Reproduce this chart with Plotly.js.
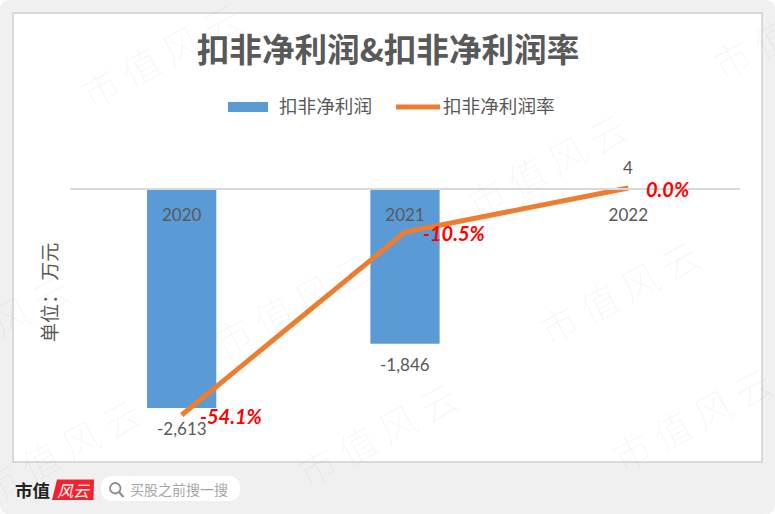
<!DOCTYPE html>
<html><head><meta charset="utf-8">
<script src="https://cdn.plot.ly/plotly-3.0.1.min.js"></script>
<style>html,body{margin:0;padding:0;background:#fff;overflow:hidden}#c{width:775px;height:514px}</style>
</head><body><div id="c"></div>
<script>
var categories = ['2020','2021','2022'];
var profit = [-2613,-1846,4];
var profitLabels = ['-2,613','-1,846','4'];
var margin = [-54.1,-10.5,0.0];
var marginLabels = ['-54.1%','-10.5%','0.0%'];
var barName = '扣非净利润';
var lineName = '扣非净利润率';
var chartTitle = '扣非净利润&扣非净利润率';
var unitLabel = '单位： 万元';
var watermarkChars = ['市','值','风','云'];
var watermarkSpots = [[160,55],[791,26],[546,165],[292,303],[618,291],[-11,325],[376,433],[691,418],[59,449]];

var W=775,H=514;
function px(x){return x/W;} function py(y){return 1-y/H;}
var F='Lato, "Noto Sans CJK SC", sans-serif', CJK='"Noto Sans CJK SC", sans-serif';
var top_=140,bot=440,zero=189;
var s1=219/2613, s2=227/54.1;
var yRange=[(zero-bot)/s1,(zero-top_)/s1];
var y2Range=[(188-bot)/s2,(188-top_)/s2];

var traces=[
 {type:'bar',name:barName,x:categories,y:profit,marker:{color:'#5B9BD5'},width:0.31,hoverinfo:'x+y'},
 {type:'scatter',mode:'lines',name:lineName,x:categories,y:margin,yaxis:'y2',cliponaxis:false,
  line:{color:'#ED7D31',width:5},hoverinfo:'x+y'}
];
function rr(x0,y0,x1,y1,r){
 function P(x,y){return px(x)+','+py(y);}
 return 'M'+P(x0+r,y0)+'L'+P(x1-r,y0)+'Q'+P(x1,y0)+' '+P(x1,y0+r)+'L'+P(x1,y1-r)+'Q'+P(x1,y1)+' '+P(x1-r,y1)+
 'L'+P(x0+r,y1)+'Q'+P(x0,y1)+' '+P(x0,y1-r)+'L'+P(x0,y0+r)+'Q'+P(x0,y0)+' '+P(x0+r,y0)+'Z';
}
function box(x0,y0,x1,y1,o){return Object.assign({type:'rect',xref:'paper',yref:'paper',x0:px(x0),x1:px(x1),y0:py(y0),y1:py(y1),layer:'below'},o);}
var shapes=[
 {type:'path',xref:'paper',yref:'paper',path:rr(0,0,775,514,10),fillcolor:'#f0f0f0',line:{width:0},layer:'below'},
 box(13,13,762,462,{fillcolor:'#fff',line:{color:'#d9d9d9',width:2}}),
 box(228,102,268,112,{fillcolor:'#5B9BD5',line:{width:0}}),
 {type:'line',xref:'paper',yref:'paper',x0:px(396),x1:px(440),y0:py(107),y1:py(107),line:{color:'#ED7D31',width:5},layer:'below'},
 {type:'path',xref:'paper',yref:'paper',path:rr(101,476,240,501,12),fillcolor:'#fff',line:{width:0},layer:'below'},
 {type:'circle',xref:'paper',yref:'paper',x0:px(110),x1:px(120.5),y0:py(483),y1:py(493.5),line:{color:'#8c8c8c',width:1.8},fillcolor:'rgba(0,0,0,0)'},
 {type:'line',xref:'paper',yref:'paper',x0:px(119),x1:px(123.5),y0:py(492),y1:py(497),line:{color:'#8c8c8c',width:2}},
 {type:'path',xref:'paper',yref:'paper',path:'M'+px(57)+','+py(479.5)+'L'+px(94)+','+py(479.5)+'L'+px(93.5)+','+py(500)+'L'+px(52)+','+py(500)+'Z',fillcolor:'#f5222d',line:{width:0}}
];
function note(x,y,t,size,color,o){return Object.assign({xref:'paper',yref:'paper',x:px(x),y:py(y),text:t,showarrow:false,
  font:{family:CJK,size:size,color:color},xanchor:'center',yanchor:'middle'},o||{});}
var ann=[
 note(325,105,barName,18.6,'#595959'),
 note(499,105,lineName,18.6,'#595959'),
 note(48,293,unitLabel,19,'#595959',{textangle:-90}),
 note(32.5,489,'<b>市值</b>',17.5,'#222222'),
 note(73.5,490,'<i>风云</i>',16,'#ffffff'),
 note(179,489,'买股之前搜一搜',14,'#a6a6a6')
];
categories.forEach(function(c,i){
 ann.push({xref:'x',yref:'y',x:i,y:profit[i],text:profitLabels[i],showarrow:false,xanchor:'center',yanchor:'middle',
  yshift:profit[i]<0?-20.5:21,font:{family:F,size:17,color:'#595959'}});
 ann.push({xref:'x',yref:'y2',x:i,y:margin[i],text:marginLabels[i],showarrow:false,xanchor:'left',yanchor:'middle',xshift:16,yshift:-1,
  font:{family:F,size:20,color:'#FF0000',weight:700,style:'italic'}});
});
var wmText=watermarkChars.join('\u2009');
watermarkSpots.forEach(function(p){
 ann.push(note(p[0],p[1],wmText,38,'rgba(0,0,0,0.04)',{textangle:-28,font:{family:CJK,size:38,color:'rgba(0,0,0,0.04)',weight:300}}));
});
var layout={width:W,height:H,margin:{l:0,r:0,t:0,b:0,pad:0},paper_bgcolor:'#fff',plot_bgcolor:'rgba(0,0,0,0)',showlegend:false,bargap:0.69,
 title:{text:chartTitle,x:388/W,xanchor:'center',y:py(51),yanchor:'middle',font:{family:CJK,size:32.6,color:'#595959',weight:700}},
 xaxis:{domain:[px(70),px(740)],type:'category',range:[-0.5,2.5],anchor:'free',position:py(zero),showline:true,linecolor:'#d9d9d9',linewidth:2,
  showgrid:false,zeroline:false,ticks:'',ticklen:0,tickfont:{family:F,size:17,color:'#595959'},ticklabelstandoff:11,layer:'above traces'},
 yaxis:{domain:[py(bot),py(top_)],range:yRange,visible:false,showgrid:false,zeroline:false},
 yaxis2:{domain:[py(bot),py(top_)],range:y2Range,overlaying:'y',side:'right',visible:false,showgrid:false,zeroline:false},
 shapes:shapes,annotations:ann};
Plotly.newPlot('c',traces,layout,{displayModeBar:false,staticPlot:true});
</script></body></html>
